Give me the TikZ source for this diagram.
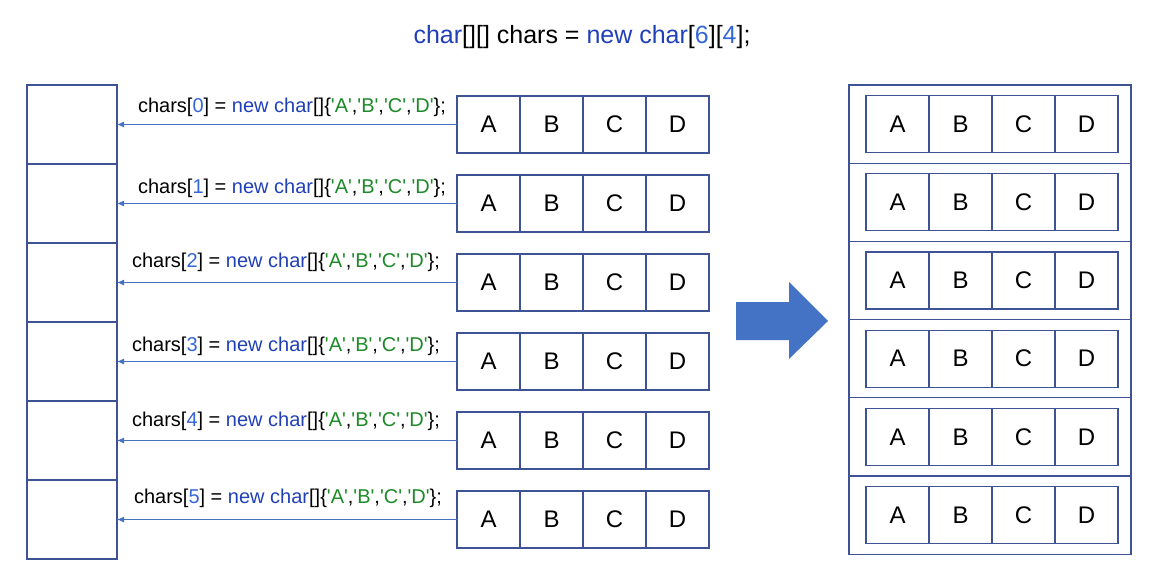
\documentclass[tikz,border=0pt]{standalone}
\usepackage{fontspec}
\setmainfont{Liberation Sans}[Ligatures=TeXOff]
\usetikzlibrary{arrows.meta}
\definecolor{javakw}{RGB}{32,64,184}
\definecolor{javaidx}{RGB}{52,102,214}
\definecolor{javastr}{RGB}{28,138,40}
\definecolor{edge}{RGB}{62,82,150}
\definecolor{ptrblue}{RGB}{68,114,196}
\newcommand{\kwd}[1]{\textcolor{javakw}{#1}}
\newcommand{\idx}[1]{\textcolor{javaidx}{#1}}
\newcommand{\lit}[1]{\textcolor{javastr}{'#1'}}
\tikzset{
  cell/.style={draw=edge, line width=0.65pt, minimum width=31.5pt, minimum height=28.5pt,
    inner sep=0pt, outer sep=0pt, font=\fontsize{12}{14}\selectfont},
  slot/.style={draw=edge, line width=0.65pt, minimum width=45pt, minimum height=39.5pt,
    inner sep=0pt, outer sep=0pt},
  row/.style={draw=edge, line width=0.65pt, minimum width=141pt, minimum height=39.1pt,
    inner sep=0pt, outer sep=0pt},
  ptr/.style={draw=ptrblue, line width=0.5pt, -{Latex[length=3.5pt,width=3pt]}},
  code/.style={font=\fontsize{10}{12}\selectfont, inner sep=0pt}
}
\begin{document}
\begin{tikzpicture}[x=0.5pt,y=-0.5pt]
  \useasboundingbox (0,0) rectangle (1154,577);

  \node[font=\fontsize{12.5}{15}\selectfont, inner sep=0pt] (title) at (582,37)
    {\kwd{char}[][] chars = \kwd{new char}[\idx{6}][\idx{4}];};

  \foreach \i in {0,...,5} {
    \node[slot] (p\i) at (72, {124.5+79*\i}) {};
    \foreach \c [count=\j from 0] in {A,B,C,D}
      \node[cell] (a\i\j) at ({457+63*\j+31.5}, {124.5+79*\i}) {\c};
    \draw[ptr] (a\i0.west) -- (p\i.east);
  }

  \foreach \i/\lx/\ly in {0/292/107, 1/292/188, 2/286/262, 3/286/346, 4/286/421, 5/288/498}
    \node[code] (lab\i) at (\lx,\ly)
      {chars[\idx{\i}] = \kwd{new char}[]\{\lit{A},\lit{B},\lit{C},\lit{D}\};};

  \fill[ptrblue] (736,302) -- (789,302) -- (789,282) -- (828,321) -- (789,359)
    -- (789,340) -- (736,340) -- cycle;

  \foreach \i in {0,...,5} {
    \node[row] (r\i) at (990, {85+78.2*\i+39.1}) {};
    \foreach \c [count=\j from 0] in {A,B,C,D}
      \node[cell] (b\i\j) at ({866+63*\j+31.5}, {85+78.2*\i+39.1}) {\c};
  }
\end{tikzpicture}
\end{document}
